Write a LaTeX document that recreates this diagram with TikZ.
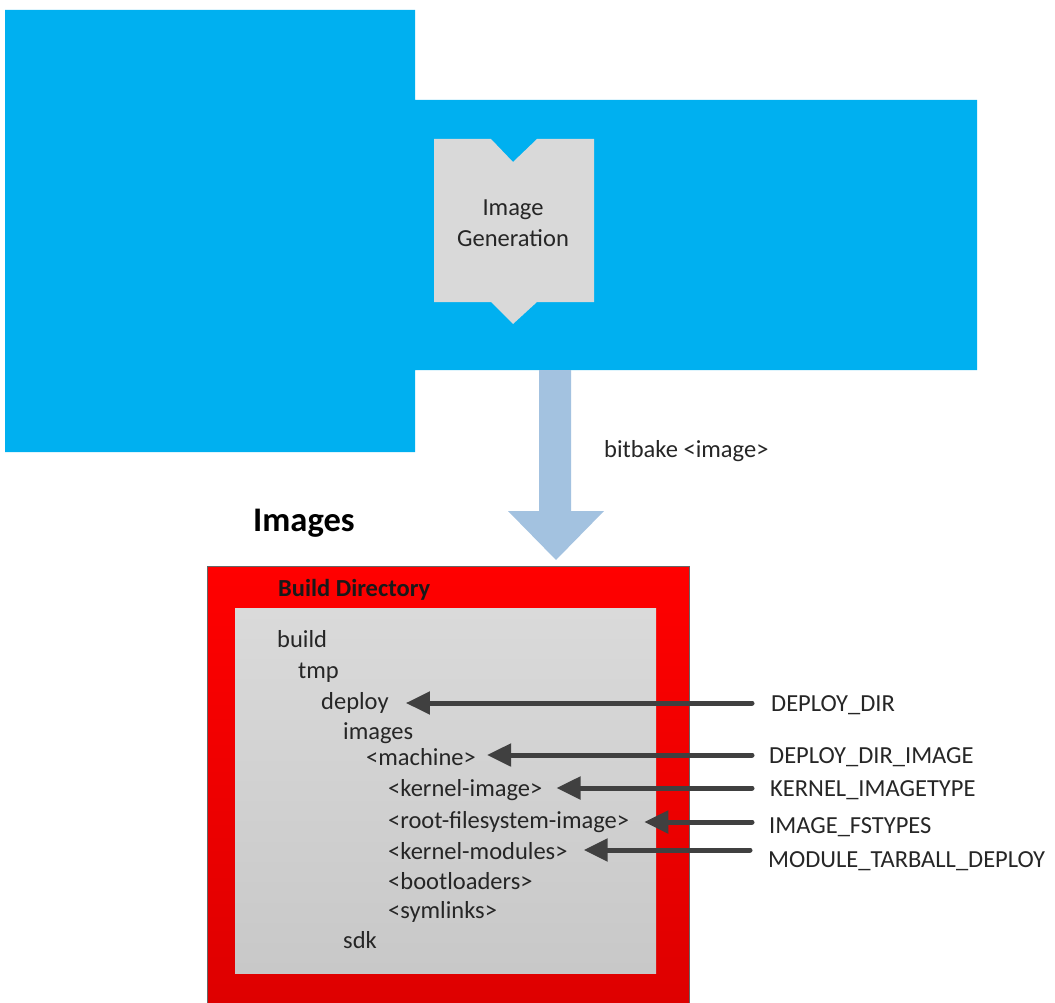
\documentclass[tikz,border=0pt]{standalone}
\usepackage{fontspec}
\setmainfont{Carlito}
\usetikzlibrary{arrows.meta,calc}
\definecolor{bluebg}{HTML}{00B0F0}
\definecolor{boxgray}{HTML}{D9D9D9}
\definecolor{bigarrow}{HTML}{A3C2E0}
\definecolor{darkarr}{HTML}{404040}
\definecolor{txt}{HTML}{262626}
\begin{document}
\begin{tikzpicture}[x=1pt,y=-1pt,
  lbl/.style={font=\fontsize{24.5}{30}\selectfont, text=txt, inner sep=0pt, anchor=west, text height=16.5pt, text depth=5pt},
  item/.style={lbl},
  darr/.style={draw=darkarr, line width=5pt, line cap=round, -{Triangle[length=24pt,width=22pt]}, shorten >=-3pt}
]
\useasboundingbox (0,0) rectangle (1055,1003);
% blue area
\fill[bluebg] (5,10) -- (415,10) -- (415,100) -- (977,100) -- (977,370) -- (415,370) -- (415,452) -- (5,452) -- cycle;
% Image generation box
\fill[boxgray] (434,139) -- (491,139) -- (513,162) -- (537,139) -- (594,139) -- (594,302) -- (537,302) -- (513,324) -- (491,302) -- (434,302) -- cycle;
\node[font=\fontsize{24.5}{31}\selectfont, text=txt, align=center] (imggen) at (513,223) {Image\\Generation};
% big arrow
\fill[bigarrow] (539,370) -- (571,370) -- (571,511) -- (604,511) -- (556,560) -- (508,511) -- (539,511) -- cycle;
\node[lbl] (bitbake) at (604,452) {bitbake <image>};
% Images title
\node[font=\fontsize{34.5}{40}\selectfont\bfseries, text=black, inner sep=0pt, anchor=west] (images) at (253,523) {Images};
% build directory
\shade[top color={rgb,255:red,255;green,0;blue,0}, bottom color={rgb,255:red,222;green,0;blue,0}] (207,566) rectangle (689,1003);
\draw[darkarr!80, line width=1pt] (207,1003) -- (207,566) -- (689,566) -- (689,1003);
\shade[top color={rgb,255:red,218;green,218;blue,218}, bottom color={rgb,255:red,200;green,200;blue,200}] (235,608) rectangle (656,973);
\node[font=\fontsize{24.5}{30}\selectfont\bfseries, text=black!90, inner sep=0pt, anchor=west] (bdir) at (278,590) {Build Directory};
% tree
\node[item] (build) at (277,642) {build};
\node[item] (tmp) at (298,673) {tmp};
\node[item] (deploy) at (321,704) {deploy};
\node[item] (imgs) at (343,734) {images};
\node[item] (machine) at (366,760) {<machine>};
\node[item] (kimg) at (388,791) {<kernel-image>};
\node[item] (rootfs) at (388,823) {<root-filesystem-image>};
\node[item] (kmods) at (388,854) {<kernel-modules>};
\node[item] (boot) at (388,884) {<bootloaders>};
\node[item] (syml) at (388,913) {<symlinks>};
\node[item] (sdk) at (343,943) {sdk};
% variable labels
\node[lbl] (vdd) at (771,706) {DEPLOY\_DIR};
\node[lbl] (vddi) at (769,758) {DEPLOY\_DIR\_IMAGE};
\node[lbl] (vkit) at (770,791) {KERNEL\_IMAGETYPE};
\node[lbl] (vfs) at (769,828) {IMAGE\_FSTYPES};
\node[lbl] (vmtd) at (768,862) {MODULE\_TARBALL\_DEPLOY};
% arrows
\coordinate (tdd) at ($(deploy.east)+(20,-1)$);
\coordinate (tddi) at ($(machine.east)+(14,-5)$);
\coordinate (tkit) at ($(kimg.east)+(17,-3)$);
\coordinate (tfs) at ($(rootfs.east)+(18,-1)$);
\coordinate (tmtd) at ($(kmods.east)+(19,-4)$);
\draw[darr] ($(vdd.west |- tdd)+(-19,0)$) -- (tdd);
\draw[darr] ($(vddi.west |- tddi)+(-17,0)$) -- (tddi);
\draw[darr] ($(vkit.west |- tkit)+(-18,0)$) -- (tkit);
\draw[darr] ($(vfs.west |- tfs)+(-17,0)$) -- (tfs);
\draw[darr] ($(vmtd.west |- tmtd)+(-18,0)$) -- (tmtd);
\end{tikzpicture}
\end{document}
